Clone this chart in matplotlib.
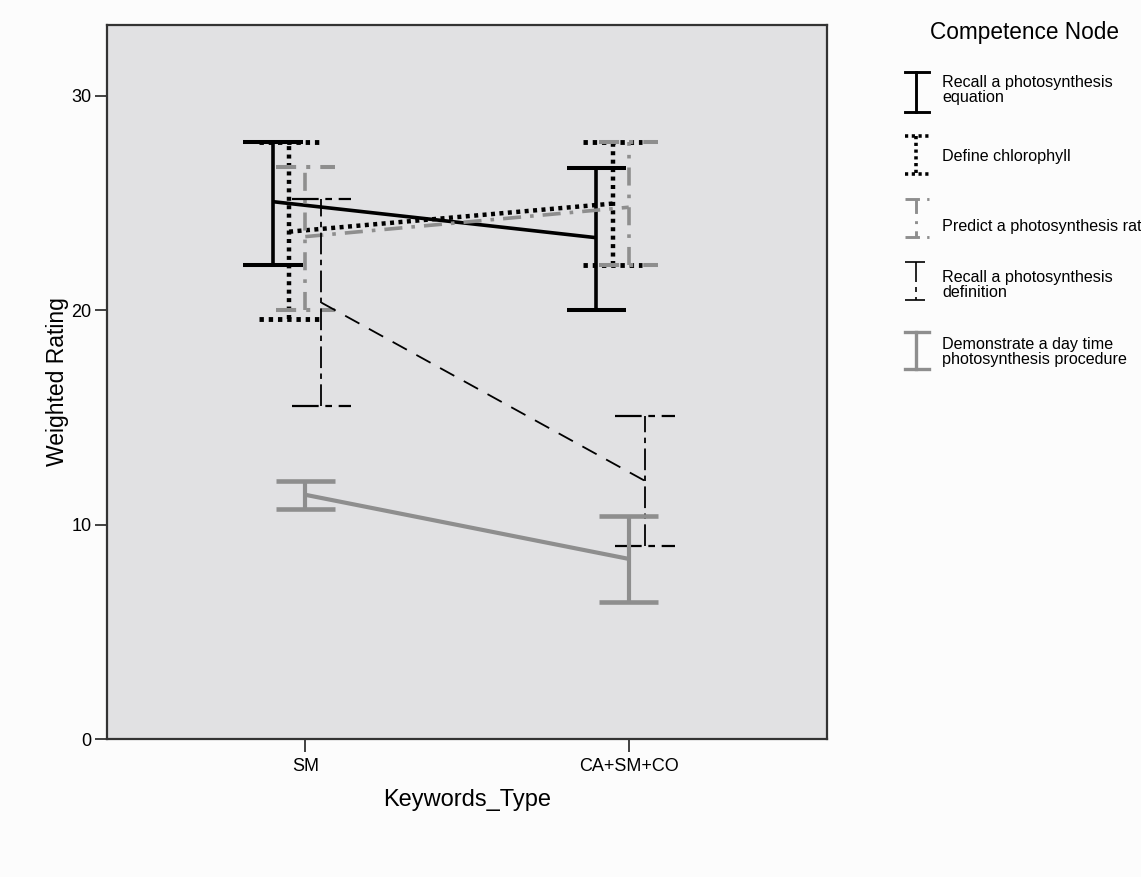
import matplotlib
matplotlib.use("Agg")
import matplotlib.pyplot as plt
from matplotlib.lines import Line2D

# Categories on the x axis
categories = ["SM", "CA+SM+CO"]

# Competence nodes (legend labels)
nodes = [
    "Recall a photosynthesis\nequation",
    "Define chlorophyll",
    "Predict a photosynthesis rate",
    "Recall a photosynthesis\ndefinition",
    "Demonstrate a day time\nphotosynthesis procedure",
]

# Mean weighted rating per node and category
mean_equation = [25.06, 23.38]
mean_chlorophyll = [23.66, 24.97]
mean_rate = [23.43, 24.80]
mean_definition = [20.35, 12.04]
mean_procedure = [11.39, 8.40]

# Error bar limits (lower, upper)
low_equation = [22.10, 20.02]
high_equation = [27.86, 26.64]
low_chlorophyll = [19.60, 22.12]
high_chlorophyll = [27.82, 27.86]
low_rate = [20.02, 22.12]
high_rate = [26.69, 27.86]
low_definition = [15.54, 9.00]
high_definition = [25.20, 15.07]
low_procedure = [10.73, 6.39]
high_procedure = [12.04, 10.41]

means = [mean_equation, mean_chlorophyll, mean_rate, mean_definition, mean_procedure]
lows = [low_equation, low_chlorophyll, low_rate, low_definition, low_procedure]
highs = [high_equation, high_chlorophyll, high_rate, high_definition, high_procedure]

GREY = "#8e8e8e"
# style per node: colour, line width, mean-line style, bar style, cap style
styles = [
    dict(color="black", lw=2.6, ls="-", bar_ls="-", cap_ls="-"),
    dict(color="black", lw=3.2, ls=(0, (0.9, 1.0)), bar_ls=(0, (0.9, 1.0)), cap_ls=(0, (0.9, 1.0))),
    dict(color=GREY, lw=2.6, ls=(0, (5, 2.5, 1, 2.5)), bar_ls=(0, (5, 2.5, 1, 2.5)), cap_ls=(0, (5, 2.5, 1, 2.5))),
    dict(color="black", lw=1.3, ls=(0, (9, 6)), bar_ls=(0, (12, 3, 3, 3)), cap_ls=(0, (12, 3, 3, 3))),
    dict(color=GREY, lw=3.0, ls="-", bar_ls="-", cap_ls="-"),
]
offsets = [-0.1, -0.05, 0.0, 0.05, 0.0]
cap_half = 0.092

fig = plt.figure(figsize=(11.41, 8.77), dpi=100)
fig.patch.set_facecolor("#fcfcfc")
ax = fig.add_axes([107 / 1141, 1 - 739 / 877, (827 - 107) / 1141, (739 - 25) / 877])
ax.set_facecolor("#e1e1e3")

x = list(range(len(categories)))
for m, lo, hi, st, off in zip(means, lows, highs, styles, offsets):
    xs = [xi + off for xi in x]
    ax.plot(xs, m, color=st["color"], lw=st["lw"], ls=st["ls"], solid_capstyle="butt", zorder=3)
    ax.vlines(xs, lo, hi, colors=st["color"], lw=st["lw"], linestyles=[st["bar_ls"]], zorder=3)
    for xi, l, h in zip(xs, lo, hi):
        ax.hlines([l, h], xi - cap_half, xi + cap_half, colors=st["color"], lw=st["lw"] + 0.3,
                  linestyles=[st["cap_ls"]], zorder=3)

ax.set_xlim(-0.613, 1.613)
ax.set_ylim(0, 33.3)
ax.set_xticks(x)
ax.set_xticklabels(categories)
ax.set_yticks([0, 10, 20, 30])
for s in ax.spines.values():
    s.set_color("#333333")
    s.set_linewidth(1.6)
ax.tick_params(axis="both", direction="out", length=9, width=1.3, color="#333333")
ax.tick_params(axis="x", labelsize=13, pad=5)
ax.tick_params(axis="y", labelsize=13, pad=2)
sans = ["Liberation Sans", "DejaVu Sans"]
for lab in ax.get_xticklabels() + ax.get_yticklabels():
    lab.set_family(sans)
    lab.set_stretch("condensed")
ax.set_xlabel("Keywords_Type", fontsize=17, family=sans, labelpad=10)
ax.set_ylabel("Weighted Rating", fontsize=16.5, family=sans, labelpad=2)

# Legend drawn beside the plot
W, H = 1141, 877
fig.text(1025 / W, 1 - 33 / H, "Competence Node", fontsize=16.3, ha="center", va="center",
         family=sans)
icon_rows = [(72, 112), (136, 174), (199, 237), (262, 300), (332, 369)]
text_rows = [90, 157, 227, 285, 352]
for (yt, yb), ty, st, name in zip(icon_rows, text_rows, styles, nodes):
    xc = 916
    y1, y2 = 1 - yt / H, 1 - yb / H
    lw = max(st["lw"] * 0.8, 1.2)
    fig.add_artist(Line2D([xc / W, xc / W], [y1, y2], color=st["color"], lw=lw, ls=st["bar_ls"]))
    for yy in (y1, y2):
        fig.add_artist(Line2D([905 / W, 929 / W], [yy, yy], color=st["color"], lw=lw, ls=st["cap_ls"]))
    fig.text(942 / W, 1 - ty / H, name, fontsize=11.6, ha="left", va="center", linespacing=0.92,
             family=sans)

fig.savefig("out.png", dpi=100, facecolor=fig.get_facecolor())
